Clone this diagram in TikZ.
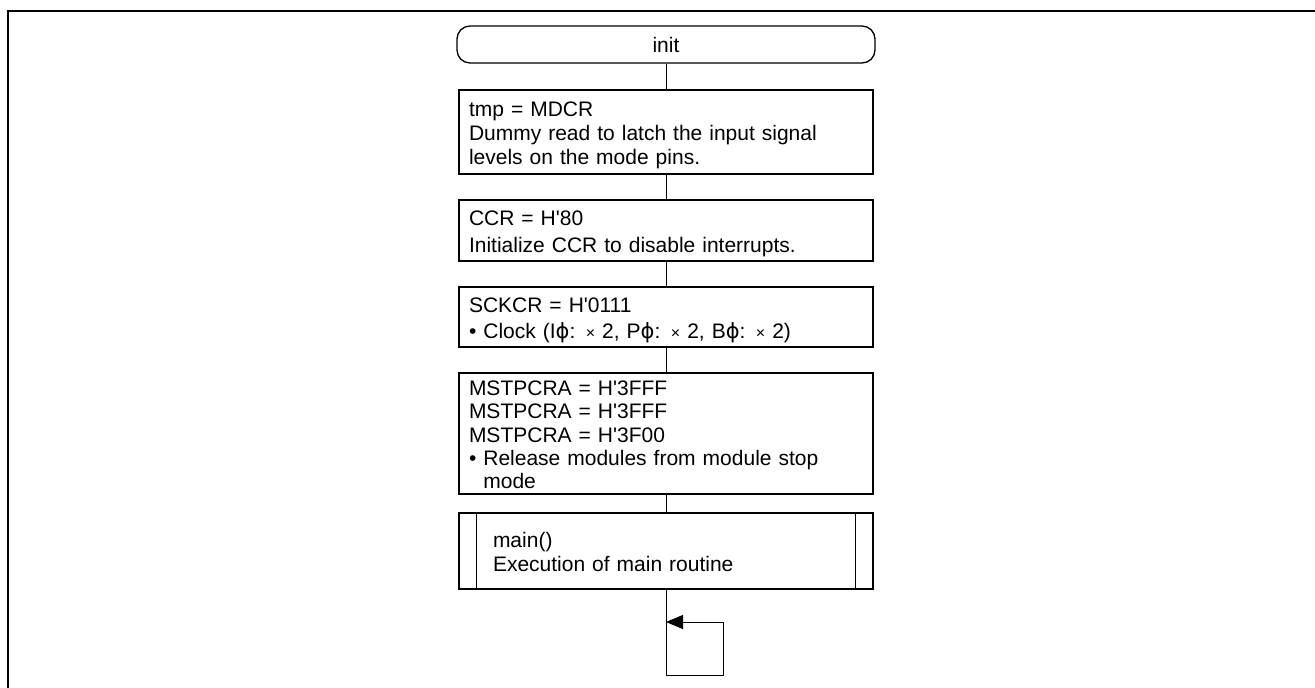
\documentclass[tikz,border=0pt]{standalone}
\usepackage{fontspec}
\newfontfamily\flowfont{Liberation Sans}
\newfontfamily\phifont{DejaVu Sans}
\usetikzlibrary{arrows.meta}

\newcommand{\ph}{{\phifont ϕ}}
\newcommand{\tms}{{\fontsize{16}{20}\selectfont ×}}
\newcommand{\hang}{\phantom{\textbullet\ }}

\tikzset{
  proc/.style={draw, line width=1.3pt, text width=394pt, inner xsep=10pt,
    inner ysep=0pt, align=left, font=\flowfont\fontsize{21}{#1}\selectfont,
    execute at begin node={\rule{0pt}{22pt}},
    execute at end node={\rule[-5pt]{0pt}{5pt}}},
  proc/.default=24pt,
  subr/.style={proc=#1, text width=346pt, inner xsep=34pt},
  subr/.default=23.3pt,
  term/.style={draw, line width=1.3pt, rounded corners=13pt, minimum width=418pt,
    minimum height=37pt, align=center, font=\flowfont\fontsize{21}{24}\selectfont},
  flow/.style={line width=1pt},
}

\begin{document}
\begin{tikzpicture}[x=1pt, y=-1pt]
    \useasboundingbox (0,0) rectangle (1315,688);
    \draw[line width=2.5pt] (8,688) -- (8,11) -- (1315,11);

    \node[term] (init) at (666,44.5) {init};
    \node[proc, minimum height=84pt] (mdcr) at (666,132)
      {tmp = MDCR\\Dummy read to latch the input signal\\levels on the mode pins.};
    \node[proc=26.7pt, minimum height=61pt] (ccr) at (666,230.5)
      {CCR = H'80\\Initialize CCR to disable interrupts.};
    \node[proc=26.7pt, minimum height=60pt] (sckcr) at (666,317)
      {SCKCR = H'0111\\\textbullet\ Clock (I\ph: \tms\ 2, P\ph: \tms\ 2, B\ph: \tms\ 2)};
    \node[proc=23.3pt, minimum height=121pt] (mstp) at (666,433.5)
      {MSTPCRA = H'3FFF\\MSTPCRA = H'3FFF\\MSTPCRA = H'3F00\\
       \textbullet\ Release modules from module stop\\\hang mode};
    \node[subr, minimum height=76pt] (mainr) at (666,551)
      {main()\\Execution of main routine};
    \draw[line width=1.3pt] ([xshift=18pt]mainr.north west) -- ([xshift=18pt]mainr.south west);
    \draw[line width=1.3pt] ([xshift=-18pt]mainr.north east) -- ([xshift=-18pt]mainr.south east);

    \draw[flow] (init) -- (mdcr);
    \draw[flow] (mdcr) -- (ccr);
    \draw[flow] (ccr) -- (sckcr);
    \draw[flow] (sckcr) -- (mstp);
    \draw[flow] (mstp) -- (mainr);

    % endless loop
    \coordinate (lpin) at (666,622);
    \coordinate (lpbot) at (666,675);
    \coordinate (lpr) at (723,675);
    \draw[flow, -{Triangle[length=17pt,width=14pt]}] (mainr) -- (lpbot) -- (lpr) |- (lpin);
  \end{tikzpicture}
\end{document}
